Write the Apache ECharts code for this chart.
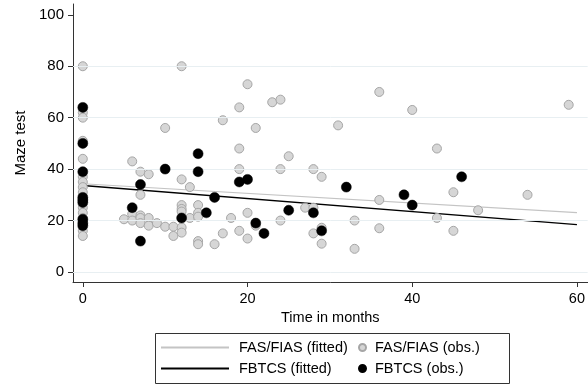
<!DOCTYPE html>
<html>
<head>
<meta charset="utf-8">
<script src="https://cdn.jsdelivr.net/npm/echarts@6/dist/echarts.min.js"></script>
<style>html,body{margin:0;padding:0;background:#fff}#c{width:588px;height:384px}</style>
</head>
<body>
<div id="c"></div>
<script>
// FAS/FIAS observations [months, maze score]
const fasObs = [
  [0,80],[0,62],[0,60],[0,51],[0,44],[0,37],[0,35],[0,33],[0,31],[0,25],[0,23],[0,21],[0,16],[0,14],
  [5,20.5],[6,43],[6,22.5],[6,20],[7,39],[7,30],[7,22],[7,21],[7,19],[8,38],[8,21],[8,18],[9,19],
  [10,56],[10,17.6],[11,17.6],[11,14],[12,80],[12,36],[12,26],[12,24.5],[12,23.5],[12,17.3],[12,15.3],
  [13,33],[13,21],[14,26],[14,23],[14,21.5],[14,12],[14,10.8],[16,10.8],[17,59],[17,15],[18,21],
  [19,64],[19,48],[19,40],[19,16],[20,73],[20,23],[20,13],[21,56],[21,18],[23,66],[24,67],[24,40],[24,20],
  [25,45],[27,25],[28,40],[28,25],[28,15],[29,37],[29,17.2],[29,11],[31,57],[33,20],[33,9],
  [36,70],[36,28],[36,17],[40,63],[43,48],[43,21],[45,31],[45,16],[48,24],[54,30],[59,65]
];
// FBTCS observations
const fbtcsObs = [
  [0,64],[0,50],[0,39],[0,29],[0,28],[0,27],[0,20.5],[0,19],[0,18],
  [6,25],[7,34],[7,12],[10,40],[12,21],[14,46],[14,39],[15,23],[16,29],[19,35],[20,36],
  [21,19],[22,15],[25,24],[28,23],[29,16],[32,33],[39,30],[40,26],[46,37]
];
// Fitted lines
const fasFit = [[0,34.3],[60,23.1]];
const fbtcsFit = [[0,33.6],[60,18.4]];
// Ticks
const xTicks = [0,20,40,60];
const yTicks = [0,20,40,60,80,100];
const yGrid = [0,20,40,60,80];

const FONT = '"Liberation Sans", Arial, sans-serif';
const chart = echarts.init(document.getElementById('c'), null, {renderer:'canvas'});
chart.setOption({
  animation:false,
  backgroundColor:'#fff',
  textStyle:{fontFamily:FONT},
  grid:{left:73, right:0, top:4, bottom:102, containLabel:false},
  xAxis:{
    type:'value', min:-1.19, max:61.3,
    name:'Time in months', nameLocation:'middle', nameGap:23,
    nameTextStyle:{fontFamily:FONT, fontSize:14.5, color:'#000'},
    axisLine:{onZero:false, lineStyle:{color:'#333', width:1}},
    axisTick:{show:true, length:5, customValues:xTicks, lineStyle:{color:'#333'}},
    axisLabel:{customValues:xTicks, margin:9, fontFamily:FONT, fontSize:14.5, color:'#000'},
    splitLine:{show:false}
  },
  yAxis:{
    type:'value', min:-3.9, max:104.2,
    name:'Maze test', nameLocation:'middle', nameGap:44,
    nameTextStyle:{fontFamily:FONT, fontSize:15, color:'#000'},
    axisLine:{show:true, onZero:false, lineStyle:{color:'#333', width:1}},
    axisTick:{show:true, length:5, customValues:yTicks, lineStyle:{color:'#333'}},
    axisLabel:{customValues:yTicks, margin:9, fontFamily:FONT, fontSize:15, color:'#000'},
    splitLine:{show:false}
  },
  legend:[
    {
      orient:'vertical', left:160, top:340, padding:0, itemGap:6, itemWidth:68, itemHeight:14,
      data:['FAS/FIAS (fitted)','FBTCS (fitted)'],
      itemStyle:{opacity:0},
      textStyle:{fontFamily:FONT, fontSize:14.5, color:'#000', padding:[0,0,0,5]},
      selectedMode:false
    },
    {
      orient:'vertical', left:358, top:340, padding:0, itemGap:6, itemWidth:7, itemHeight:14,
      data:[{name:'FAS/FIAS (obs.)', icon:'circle'},{name:'FBTCS (obs.)', icon:'circle'}],
      textStyle:{fontFamily:FONT, fontSize:14.5, color:'#000', padding:[0,0,0,4]},
      selectedMode:false
    }
  ],
  graphic:[{
    type:'rect', left:153, top:331, z:100,
    shape:{width:354, height:50},
    style:{fill:'none', stroke:'#333', lineWidth:1}
  }],
  series:[
    {
      name:'grid', type:'line', data:[], silent:true,
      markLine:{silent:true, symbol:'none', label:{show:false},
        lineStyle:{color:'#e8eff2', width:1, type:'solid'},
        data:yGrid.map(v=>({yAxis:v}))}
    },
    {
      name:'FAS/FIAS (fitted)', type:'line', data:fasFit, symbol:'none', showSymbol:false,
      lineStyle:{color:'#c4c4c4', width:1.2}, itemStyle:{color:'#c4c4c4'}, z:3
    },
    {
      name:'FBTCS (fitted)', type:'line', data:fbtcsFit, symbol:'none', showSymbol:false,
      lineStyle:{color:'#000', width:1.4}, itemStyle:{color:'#000'}, z:3
    },
    {
      name:'FAS/FIAS (obs.)', type:'scatter', data:fasObs, symbol:'circle', symbolSize:9,
      itemStyle:{color:'#d6d6d6', borderColor:'#a6a6a6', borderWidth:1, opacity:1}, z:4
    },
    {
      name:'FBTCS (obs.)', type:'scatter', data:fbtcsObs, symbol:'circle', symbolSize:10,
      itemStyle:{color:'#000', borderColor:'#000', borderWidth:0.5, opacity:1}, z:5
    }
  ]
});
</script>
</body>
</html>
